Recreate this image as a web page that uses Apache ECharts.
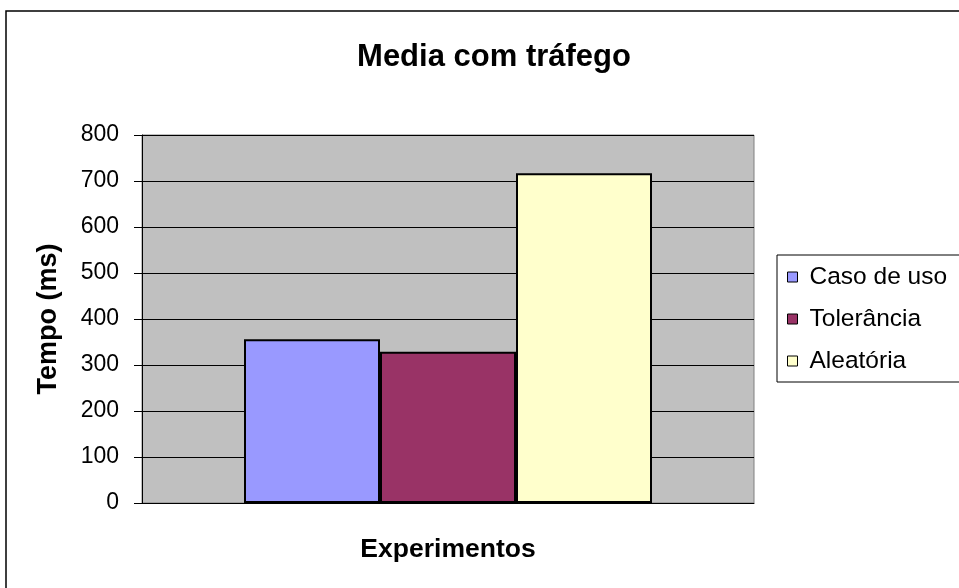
<!DOCTYPE html>
<html>
<head>
<meta charset="utf-8">
<script src="https://cdn.jsdelivr.net/npm/echarts@6/dist/echarts.min.js"></script>
<style>
  html, body { margin: 0; padding: 0; background: #fff; }
  #chart { width: 959px; height: 588px; }
</style>
</head>
<body>
<div id="chart"></div>
<script>
// Average response time with traffic, one group of three experiments
const categories = [''];
const seriesNames = ['Caso de uso', 'Tolerância', 'Aleatória'];
const casoDeUso = [356];
const tolerancia = [329];
const aleatoria = [717];
const yTicks = [0, 100, 200, 300, 400, 500, 600, 700, 800];

const colors = ['#9999FF', '#993366', '#FFFFCC'];
const fontFamily = '"Liberation Sans", Arial, sans-serif';

const chart = echarts.init(document.getElementById('chart'), null, { renderer: 'canvas' });

const values = [casoDeUso, tolerancia, aleatoria];

chart.setOption({
  animation: false,
  backgroundColor: '#ffffff',
  textStyle: { fontFamily: fontFamily },
  title: {
    text: 'Media com tráfego',
    left: 489,
    top: 52,
    textAlign: 'center',
    textVerticalAlign: 'middle',
    textStyle: { fontSize: 31, fontWeight: 'bold', color: '#000', fontFamily: fontFamily }
  },
  graphic: [{
    type: 'rect',
    shape: { x: 6, y: 11, width: 1000, height: 1000 },
    style: { fill: 'none', stroke: '#000', lineWidth: 1.5 },
    silent: true,
    z: 100
  }],
  legend: {
    orient: 'vertical',
    left: 777,
    top: 255,
    padding: [8, 60, 7, 10],
    itemGap: 14,
    itemWidth: 10,
    itemHeight: 10,
    itemStyle: { borderColor: '#000', borderWidth: 1 },
    icon: 'rect',
    itemTextGap: 13,
    borderColor: '#000',
    borderWidth: 1,
    backgroundColor: '#fff',
    textStyle: {
      fontSize: 24.5,
      color: '#000',
      fontFamily: fontFamily,
      lineHeight: 28,
      padding: [0, 0, 0, 7]
    },
    data: seriesNames
  },
  grid: {
    left: 142,
    top: 135,
    right: 205,
    bottom: 85,
    show: true,
    backgroundColor: '#C0C0C0',
    borderColor: '#808080',
    borderWidth: 1
  },
  xAxis: {
    type: 'category',
    data: categories,
    name: 'Experimentos',
    nameLocation: 'middle',
    nameGap: 33,
    nameTextStyle: { fontSize: 26.5, fontWeight: 'bold', color: '#000', fontFamily: fontFamily },
    axisLine: { show: true, lineStyle: { color: '#000', width: 1 } },
    axisTick: { show: false },
    axisLabel: { show: false }
  },
  yAxis: {
    type: 'value',
    min: 0,
    max: 800,
    interval: 100,
    name: 'Tempo (ms)',
    nameLocation: 'middle',
    nameRotate: 90,
    nameGap: 80,
    nameTextStyle: { fontSize: 27, fontWeight: 'bold', color: '#000', fontFamily: fontFamily },
    axisLine: { show: true, lineStyle: { color: '#000', width: 1 } },
    axisTick: { show: true, inside: false, length: 8, lineStyle: { color: '#000' } },
    axisLabel: {
      margin: 23,
      fontSize: 23,
      color: '#000',
      fontFamily: fontFamily,
      formatter: function (v) { return yTicks.indexOf(v) >= 0 ? String(v) : ''; }
    },
    splitLine: { show: true, lineStyle: { color: '#000', width: 1 } }
  },
  series: seriesNames.map(function (name, i) {
    return {
      name: name,
      type: 'bar',
      data: values[i],
      barWidth: 136,
      barGap: '0%',
      itemStyle: { color: colors[i], borderColor: '#000', borderWidth: 2 }
    };
  })
});
</script>
</body>
</html>
